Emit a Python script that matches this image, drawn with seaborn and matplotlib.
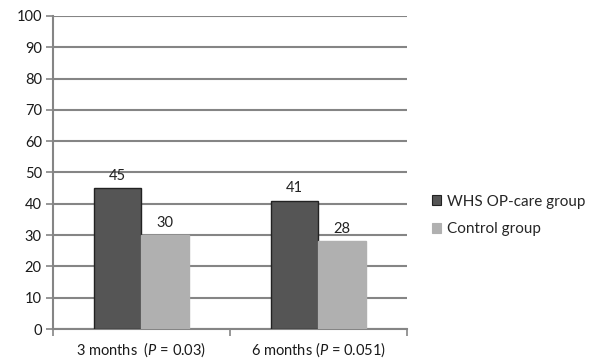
import numpy as np
import pandas as pd
import matplotlib
matplotlib.use("Agg")
import matplotlib.pyplot as plt
import seaborn as sns

# values
periods = ["3 months  ($\\it{P}$ = 0.03)", "6 months ($\\it{P}$ = 0.051)"]
whs_values = [45, 41]
control_values = [30, 28]
groups = ["WHS OP-care group", "Control group"]
yticks = list(range(0, 101, 10))

df = pd.DataFrame({
    "period": periods * 2,
    "group": [groups[0]] * 2 + [groups[1]] * 2,
    "value": whs_values + control_values,
})

sns.set_style("white")
plt.rcParams["font.family"] = ["Lato", "DejaVu Sans"]
plt.rcParams["mathtext.fontset"] = "custom"
plt.rcParams["mathtext.it"] = "Lato:italic"
plt.rcParams["mathtext.rm"] = "Lato"

fig = plt.figure(figsize=(6.08, 3.62), dpi=100)
ax = fig.add_axes([0.087, 0.091, 0.582, 0.865])

palette = {groups[0]: "#555555", groups[1]: "#b0b0b0"}
sns.barplot(data=df, x="period", y="value", hue="group", palette=palette,
            width=0.54, ax=ax, saturation=1, legend=False, zorder=3)

for cont, grp in zip(ax.containers, groups):
    for bar in cont:
        bar.set_edgecolor("#222222" if grp == groups[0] else "#b0b0b0")
        bar.set_linewidth(1.0)
    ax.bar_label(cont, padding=4, fontsize=10.5, color="#222222")

ax.set_ylim(0, 100)
ax.set_xlim(-0.5, 1.5)
ax.set_yticks(yticks)
ax.yaxis.grid(True, color="#858585", linewidth=1.5, zorder=0)
ax.set_axisbelow(True)
for s in ["top", "right"]:
    ax.spines[s].set_visible(False)
ax.spines["left"].set_color("#858585")
ax.spines["bottom"].set_color("#858585")
ax.spines["left"].set_linewidth(1.5)
ax.spines["bottom"].set_linewidth(1.5)
ax.tick_params(axis="y", length=5, width=1.2, color="#858585", labelsize=10.5,
               labelcolor="#1a1a1a", pad=3, left=True)
ax.tick_params(axis="x", length=0, labelsize=10.5, labelcolor="#1a1a1a", pad=8)
ax.set_xticks([-0.5, 0.5, 1.5], minor=True)
ax.tick_params(axis="x", which="minor", length=5, width=1.2, color="#858585", bottom=True)
ax.set_xlabel("")
ax.set_ylabel("")

handles = [plt.Rectangle((0, 0), 1, 1, facecolor=palette[g],
                         edgecolor="#222222" if g == groups[0] else palette[g], linewidth=0.8)
           for g in groups]
fig.legend(handles, groups, loc="center left", bbox_to_anchor=(0.688, 0.405),
           frameon=False, fontsize=11, handlelength=0.6, handleheight=0.6,
           handletextpad=0.4, labelspacing=0.9)

plt.savefig("out.png", dpi=100)
